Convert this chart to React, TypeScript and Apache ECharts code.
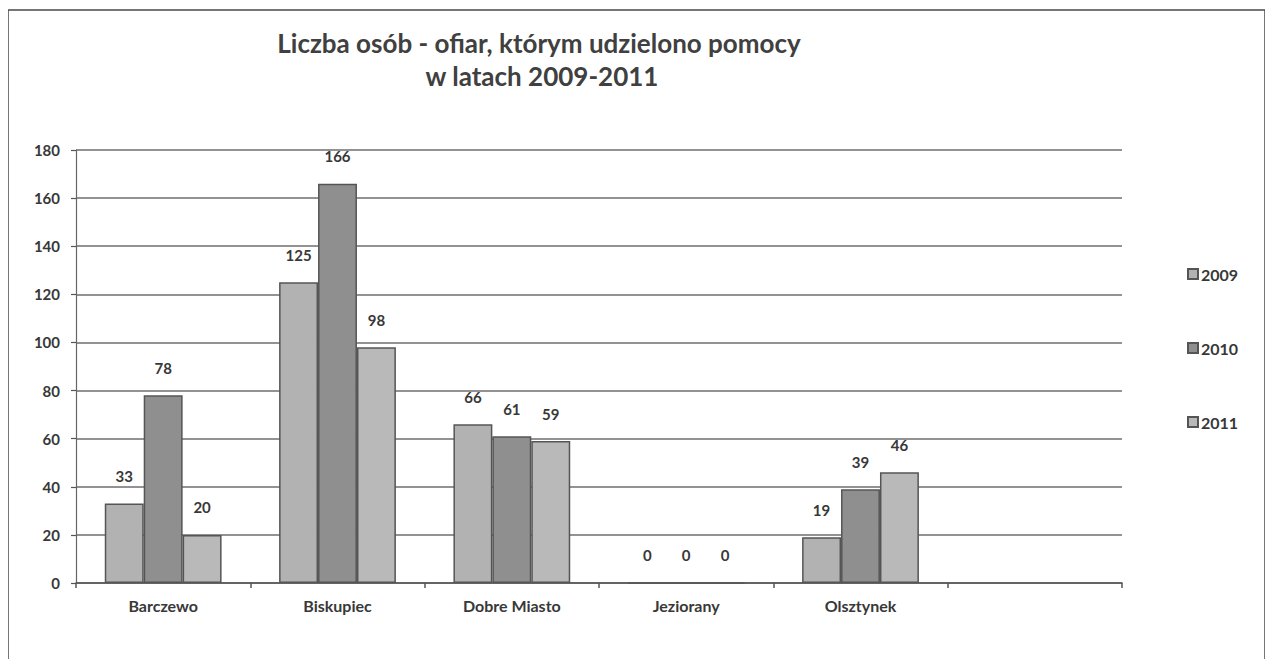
import React, { useEffect, useRef } from "react";
import * as echarts from "echarts";

const categories = ["Barczewo", "Biskupiec", "Dobre Miasto", "Jeziorany", "Olsztynek", ""];
const years = ["2009", "2010", "2011"];
const values2009 = [33, 125, 66, 0, 19, null];
const values2010 = [78, 166, 61, 0, 39, null];
const values2011 = [20, 98, 59, 0, 46, null];
const yTicks = { min: 0, max: 180, interval: 20 };
const titleLines = ["Liczba osób - ofiar, którym udzielono pomocy", "w latach 2009-2011"];

const FONT = "Lato";
const TEXT = "#383838";

export default function App() {
  const ref = useRef<HTMLDivElement>(null);
  useEffect(() => {
    if (!ref.current) return;
    const chart = echarts.init(ref.current, undefined, { renderer: "svg" });
    const colors = ["#b2b2b2", "#8f8f8f", "#b9b9b9"];
    const seriesData = [values2009, values2010, values2011];
    chart.setOption({
      animation: false,
      backgroundColor: "#ffffff",
      textStyle: { fontFamily: FONT },
      graphic: [
        {
          type: "rect",
          shape: { x: 0, y: 2, width: 1257, height: 700 },
          style: { fill: "none", stroke: "#4a4a4a", lineWidth: 1.5 },
          silent: true,
        },
        {
          type: "text",
          x: 531,
          y: 35,
          style: {
            text: titleLines[0],
            fontFamily: FONT,
            fontWeight: "bold",
            fontSize: 26,
            fill: "#404040",
            textAlign: "center",
            textVerticalAlign: "middle",
          },
        },
        {
          type: "text",
          x: 534,
          y: 68,
          style: {
            text: titleLines[1],
            fontFamily: FONT,
            fontWeight: "bold",
            fontSize: 26,
            fill: "#404040",
            textAlign: "center",
            textVerticalAlign: "middle",
          },
        },
      ],
      legend: {
        data: years,
        orient: "vertical",
        left: 1174,
        top: 253,
        itemWidth: 10,
        itemHeight: 10,
        itemGap: 58,
        icon: "rect",
        textStyle: { fontFamily: FONT, fontWeight: "bold", fontSize: 16, color: TEXT, padding: [0, 0, 0, -2] },
      },
      grid: { left: 68, right: 143, top: 142, bottom: 76 },
      xAxis: {
        type: "category",
        data: categories,
        axisLine: { lineStyle: { color: "#555", width: 1.5 } },
        axisTick: { show: true, length: 5, lineStyle: { color: "#555", width: 1.5 } },
        axisLabel: { fontFamily: FONT, fontWeight: "bold", fontSize: 16, color: TEXT, margin: 14 },
      },
      yAxis: {
        type: "value",
        min: yTicks.min,
        max: yTicks.max,
        interval: yTicks.interval,
        axisLine: { show: true, lineStyle: { color: "#666", width: 1.2 } },
        axisTick: { show: true, length: 5, lineStyle: { color: "#555", width: 1.2 } },
        axisLabel: { fontFamily: FONT, fontWeight: "bold", fontSize: 15, color: TEXT, margin: 16 },
        splitLine: { lineStyle: { color: "#6e6e6e", width: 1.5 } },
      },
      series: years.map((y, i) => ({
        name: y,
        type: "bar",
        data: seriesData[i],
        barGap: "0%",
        barCategoryGap: "33%",
        itemStyle: { color: colors[i], borderColor: "#555", borderWidth: 1.5 },
        label: {
          show: true,
          position: "top",
          distance: 20,
          fontFamily: FONT,
          fontWeight: "bold",
          fontSize: 15,
          color: TEXT,
        },
      })),
    });
    return () => chart.dispose();
  }, []);
  return <div ref={ref} style={{ width: 1257, height: 651 }} />;
}
